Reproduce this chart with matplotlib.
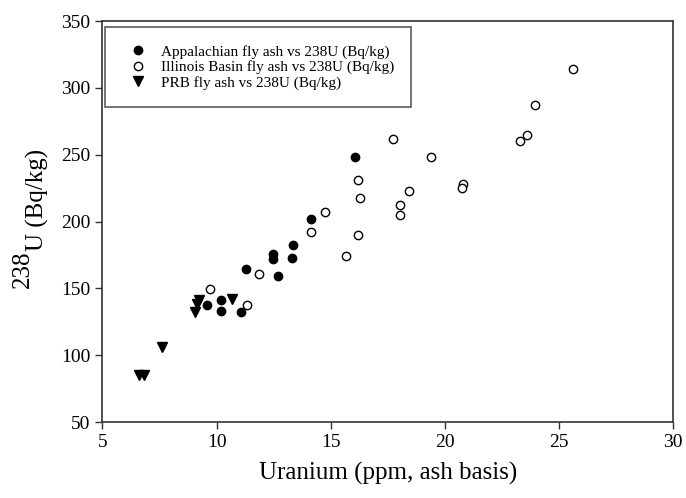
import matplotlib
matplotlib.use('Agg')
import matplotlib.pyplot as plt

plt.rcParams['font.family'] = ['Liberation Serif', 'DejaVu Serif']

# Appalachian fly ash
app_x = [16.08, 14.14, 13.35, 12.48, 12.48, 13.29, 11.28, 12.71, 9.57, 10.19, 10.20, 11.09]
app_y = [248.0, 201.7, 182.3, 175.7, 171.8, 173.0, 164.5, 159.0, 137.8, 141.1, 133.1, 132.3]

# Illinois Basin fly ash
ill_x = [16.20, 16.27, 14.77, 14.14, 16.21, 15.66, 11.85, 9.72, 11.35, 25.60,
         23.94, 23.58, 23.30, 17.74, 19.41, 18.41, 18.05, 18.03, 20.79, 20.76]
ill_y = [231.0, 217.4, 207.2, 192.0, 189.7, 174.3, 160.8, 149.5, 137.3, 314.0,
         287.0, 264.8, 260.6, 262.1, 248.1, 223.1, 212.4, 205.2, 228.0, 225.4]

# PRB fly ash
prb_x = [9.24, 9.12, 9.06, 10.68, 7.62, 6.62, 6.82]
prb_y = [141.3, 138.3, 132.6, 142.0, 105.9, 85.0, 85.0]

x_ticks = [5, 10, 15, 20, 25, 30]
y_ticks = [50, 100, 150, 200, 250, 300, 350]

fig = plt.figure(figsize=(6.86, 4.98), dpi=100)
ax = fig.add_axes([0.1494, 0.1526, 0.8317, 0.8052])

ax.plot(app_x, app_y, 'o', color='black', markersize=6, label='Appalachian fly ash vs 238U (Bq/kg)')
ax.plot(ill_x, ill_y, 'o', markerfacecolor='white', markeredgecolor='black', markeredgewidth=1.0,
        markersize=6, label='Illinois Basin fly ash vs 238U (Bq/kg)')
ax.plot(prb_x, prb_y, 'v', color='black', markersize=7, label='PRB fly ash vs 238U (Bq/kg)')

ax.set_xlim(5, 30)
ax.set_ylim(50, 350)
ax.set_xticks(x_ticks)
ax.set_yticks(y_ticks)

for s in ['top', 'right', 'left', 'bottom']:
    ax.spines[s].set_color('#333333')
    ax.spines[s].set_linewidth(1.2)
ax.tick_params(direction='out', length=5, width=1, colors='#333333', labelsize=14,
               labelcolor='black', top=False, right=False)

ax.set_xlabel('Uranium (ppm, ash basis)', fontsize=18, labelpad=8)

# y label: "238" followed by a lowered "U (Bq/kg)"
fig.text(0.034, 0.460, '238', rotation=90, fontsize=18, ha='center', va='center')
fig.text(0.054, 0.598, 'U (Bq/kg)', rotation=90, fontsize=18, ha='center', va='center')

leg = ax.legend(loc='upper left', bbox_to_anchor=(0.004, 0.985), borderaxespad=0,
                fontsize=11, frameon=True, fancybox=False, edgecolor='#333333',
                handlelength=2.0, handletextpad=0.5, labelspacing=0.1, borderpad=1.15,
                numpoints=1)
leg.get_frame().set_linewidth(1.2)

fig.savefig('out.png', dpi=100)
